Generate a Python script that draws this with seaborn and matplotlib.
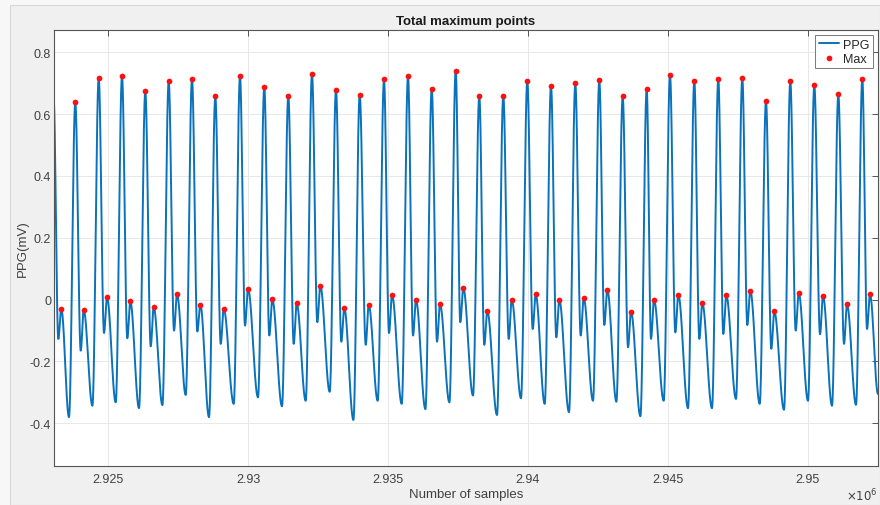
import numpy as np
import pandas as pd
import matplotlib
matplotlib.use("Agg")
import matplotlib.pyplot as plt
from matplotlib.patches import Rectangle
import seaborn as sns

# ---------------- data ----------------
title = "Total maximum points"
x_label = "Number of samples"
y_label = "PPG(mV)"
legend_labels = ["PPG", "Max"]

# systolic (main) peaks: sample index and amplitude (mV)
sys_x = [2923820, 2924657, 2925490, 2926323, 2927159, 2927992, 2928825, 2929708,
         2930576, 2931434, 2932281, 2933139, 2933986, 2934855, 2935713, 2936560,
         2937418, 2938261, 2939119, 2939977, 2940824, 2941693, 2942551, 2943387,
         2944245, 2945078, 2945947, 2946804, 2947662, 2948509, 2949378, 2950236,
         2951094, 2951952]
sys_y = [0.638, 0.717, 0.722, 0.674, 0.707, 0.715, 0.657, 0.722,
         0.688, 0.660, 0.730, 0.679, 0.663, 0.712, 0.722, 0.682,
         0.741, 0.660, 0.660, 0.708, 0.692, 0.699, 0.710, 0.657,
         0.681, 0.727, 0.708, 0.714, 0.717, 0.642, 0.706, 0.694,
         0.664, 0.714]

# dicrotic (secondary) peaks: sample index and amplitude (mV)
dic_x = [2923320, 2924121, 2924954, 2925786, 2926623, 2927456, 2928289, 2929125,
         2929994, 2930862, 2931734, 2932578, 2933436, 2934308, 2935141, 2935999,
         2936857, 2937689, 2938547, 2939420, 2940277, 2941121, 2941993, 2942837,
         2943684, 2944506, 2945375, 2946233, 2947090, 2947948, 2948806, 2949678,
         2950547, 2951405, 2952227]
dic_y = [-0.030, -0.034, 0.009, -0.006, -0.024, 0.018, -0.016, -0.030,
         0.035, 0.001, -0.012, 0.045, -0.028, -0.016, 0.015, -0.002,
         -0.015, 0.038, -0.037, -0.001, 0.017, -0.001, 0.005, 0.032,
         -0.039, -0.001, 0.015, -0.012, 0.014, 0.029, -0.038, 0.022,
         0.012, -0.015, 0.017]

# dicrotic notch minima (just before each dicrotic peak)
notch_y = [-0.127, -0.165, -0.108, -0.125, -0.151, -0.100, -0.103, -0.143,
           -0.084, -0.116, -0.143, -0.073, -0.136, -0.146, -0.108, -0.116,
           -0.136, -0.073, -0.146, -0.127, -0.095, -0.122, -0.116, -0.082,
           -0.154, -0.127, -0.106, -0.127, -0.111, -0.082, -0.159, -0.100,
           -0.112, -0.143, -0.095]

# diastolic troughs (just before each systolic peak)
trough_y = [-0.380, -0.343, -0.332, -0.351, -0.341, -0.308, -0.380, -0.337,
            -0.316, -0.345, -0.327, -0.298, -0.389, -0.327, -0.337, -0.354,
            -0.332, -0.310, -0.373, -0.319, -0.337, -0.364, -0.327, -0.330,
            -0.377, -0.327, -0.351, -0.351, -0.321, -0.337, -0.356, -0.327,
            -0.343, -0.340]

# partial beat at the left border and the value at the right border
start_point = (2923041, 0.660)
end_point = (2952513, -0.305)

x_ticks = [2925000, 2930000, 2935000, 2940000, 2945000, 2950000]
x_tick_labels = ["2.925", "2.93", "2.935", "2.94", "2.945", "2.95"]
y_ticks = [-0.4, -0.2, 0.0, 0.2, 0.4, 0.6, 0.8]
y_tick_labels = ["-0.4", "-0.2", "0", "0.2", "0.4", "0.6", "0.8"]

# ---------------- build the waveform through the read key points ----------------
NOTCH_LEAD = 107    # samples between notch minimum and dicrotic peak
TROUGH_LEAD = 225   # samples between trough and systolic peak

kx = [start_point[0]]
ky = [start_point[1]]
for i in range(len(dic_x)):
    kx += [dic_x[i] - NOTCH_LEAD, dic_x[i]]
    ky += [notch_y[i], dic_y[i]]
    if i < len(sys_x):
        kx += [sys_x[i] - TROUGH_LEAD, sys_x[i]]
        ky += [trough_y[i], sys_y[i]]
kx.append(end_point[0])
ky.append(end_point[1])
kx = np.array(kx, dtype=float)
ky = np.array(ky, dtype=float)

t = np.arange(kx[0], kx[-1] + 1, 4.0)
idx = np.clip(np.searchsorted(kx, t, side="right") - 1, 0, len(kx) - 2)
u = (t - kx[idx]) / (kx[idx + 1] - kx[idx])
sig = ky[idx] + (ky[idx + 1] - ky[idx]) * (1 - np.cos(np.pi * u)) / 2

line_df = pd.DataFrame({"sample": t, "ppg": sig})
max_df = pd.DataFrame({"sample": sys_x + dic_x, "ppg": sys_y + dic_y})

# ---------------- plot ----------------
sns.set_style("white")
plt.rcParams["font.family"] = ["Liberation Sans", "DejaVu Sans"]
plt.rcParams["axes.unicode_minus"] = False

W, H = 880, 506
fig = plt.figure(figsize=(W / 100, H / 100), dpi=100)
fig.patch.set_facecolor("#F7F7F7")
fig.add_artist(Rectangle((10 / W, 0), 1 - 10 / W, 1 - 6 / H, transform=fig.transFigure,
                         facecolor="#F0F0F0", edgecolor="#D8D8D8", lw=0.8, zorder=-10))

ax = fig.add_axes([54 / W, 1 - 467 / H, (878 - 54) / W, (467 - 31) / H])
ax.set_facecolor("white")

sns.lineplot(data=line_df, x="sample", y="ppg", ax=ax, color="#0A72BA", lw=1.4,
             estimator=None, sort=False, label=legend_labels[0])
sns.scatterplot(data=max_df, x="sample", y="ppg", ax=ax, color="#FF1010", s=17,
                linewidth=0, label=legend_labels[1], zorder=5)

ax.set_xlim(2923059, 2952513)
ax.set_ylim(-0.538, 0.872)
ax.set_xticks(x_ticks)
ax.set_xticklabels(x_tick_labels)
ax.set_yticks(y_ticks)
ax.set_yticklabels(y_tick_labels)

ax.grid(True, color="#E8E8E8", lw=0.7)
ax.set_axisbelow(True)
for s in ax.spines.values():
    s.set_color("#555555")
    s.set_linewidth(0.8)
ax.tick_params(direction="in", top=True, right=True, length=4, width=0.7,
               colors="#555555", labelcolor="#404040", labelsize=9)
ax.tick_params(axis="x", pad=5)
ax.tick_params(axis="y", pad=2)

ax.set_title(title, fontsize=9.5, fontweight="bold", color="#1A1A1A", pad=4)
ax.set_xlabel(x_label, fontsize=9.5, color="#404040", labelpad=2)
ax.set_ylabel(y_label, fontsize=9.5, color="#404040", labelpad=1)

fig.text(878 / W, 1 - 496 / H, r"$\times10^{6}$", ha="right", va="center",
         fontsize=8.5, color="#404040")

leg = ax.legend(loc="upper right", fontsize=9, frameon=True, fancybox=False,
                framealpha=1, edgecolor="#777777", handlelength=1.6,
                handletextpad=0.3, borderpad=0.3, labelspacing=0.15,
                borderaxespad=0.4)
leg.get_frame().set_linewidth(0.7)

fig.savefig("out.png", dpi=100, facecolor=fig.get_facecolor())
